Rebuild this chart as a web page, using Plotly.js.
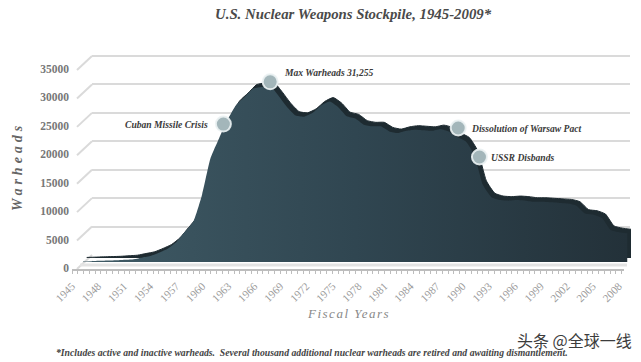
<!DOCTYPE html>
<html>
<head>
<meta charset="utf-8">
<script src="https://cdn.plot.ly/plotly-3.0.1.min.js"></script>
<style>
  html, body { margin: 0; padding: 0; background: #fff; }
  #chart { width: 641px; height: 362px; }
  .annotation[data-index="0"] text { letter-spacing: 4px; }
  .annotation[data-index="1"] text { letter-spacing: 1.5px; }
</style>
</head>
<body>
<div id="chart"></div>
<script>
// ---------------- DATA ----------------
const years = [1945,1946,1947,1948,1949,1950,1951,1952,1953,1954,1955,1956,1957,1958,1959,
  1960,1961,1962,1963,1964,1965,1966,1967,1968,1969,1970,1971,1972,1973,1974,1975,1976,1977,
  1978,1979,1980,1981,1982,1983,1984,1985,1986,1987,1988,1989,1990,1991,1992,1993,1994,1995,
  1996,1997,1998,1999,2000,2001,2002,2003,2004,2005,2006,2007,2008,2009];
const warheads = [100,150,200,250,300,400,500,800,1100,1700,2400,3600,5400,7300,12000,
  18500,22000,25300,27900,29300,30800,31100,31255,29500,27500,26000,25800,26500,27800,28500,27500,25900,25500,
  24400,24100,24100,23200,22900,23300,23500,23400,23300,23600,23200,22200,21400,19000,13700,11500,11000,10900,
  11000,10900,10700,10700,10600,10500,10400,10000,8600,8400,7800,5700,5300,5100];
const eventYears  = [1961.5, 1967, 1989.1, 1991.6];
const eventValues = [24500, 32000, 23800, 18650];
const eventLabels = ["Cuban Missile Crisis", "Max Warheads 31,255", "Dissolution of Warsaw Pact", "USSR Disbands"];
const yTickVals = [0,5000,10000,15000,20000,25000,30000,35000];
const yTickText = ["0","5000","10000","15000","20000","25000","30000","35000"];
const xTickVals = [1945,1948,1951,1954,1957,1960,1963,1966,1969,1972,1975,1978,1981,1984,1987,1990,1993,1996,1999,2002,2005,2008];
const xTickText = xTickVals.map(String);

// ---------------- GEOMETRY HELPERS ----------------
const W = 641, H = 362;
const px = v => v / W;
const py = v => 1 - v / H;
const sBack = 199 / 35000;   // px per warhead, wall/labels
const sFace = 5.63 / 1000;   // px per warhead, area faces

const serif = 'Liberation Serif, Times New Roman, serif';

const traces = [
  // gridline wall (dummy)
  {x:[0], y:[0], xaxis:'x', yaxis:'y', mode:'markers', marker:{opacity:0}, hoverinfo:'skip', showlegend:false},
  // back face (depth)
  {x: years, y: warheads, xaxis:'x2', yaxis:'y2', type:'scatter', mode:'lines', fill:'tozeroy',
   line:{color:'#1e2b31', width:1, shape:'spline', smoothing:0.5}, fillcolor:'#1e2b31', hoverinfo:'skip', showlegend:false},
  // front face
  {x: years, y: warheads, xaxis:'x3', yaxis:'y3', type:'scatter', mode:'lines', fill:'tozeroy',
   line:{color:'rgba(0,0,0,0)', width:0, shape:'spline', smoothing:0.5},
   fillgradient:{type:'horizontal', colorscale:[[0,'#3f5a65'],[0.5,'#304651'],[1,'#233139']]},
   hoverinfo:'skip', showlegend:false},
  // event markers
  {x: eventYears, y: eventValues, xaxis:'x3', yaxis:'y3', mode:'markers',
   marker:{size:15, color:'#a3b6ba', line:{color:'rgba(235,242,243,0.9)', width:2}}, hoverinfo:'skip', showlegend:false},
  // labels axes (dummy)
  {x:[1945], y:[0], xaxis:'x4', yaxis:'y4', mode:'markers', marker:{opacity:0}, hoverinfo:'skip', showlegend:false}
];

// slanted gridline segments (3D wall corners)
const shapes = yTickVals.map(v => ({
  type:'line', xref:'paper', yref:'paper', layer:'below',
  x0: px(77), y0: py(268 - v * sBack + 1), x1: px(92), y1: py(255 - v * sBack),
  line:{color:'#dadada', width:2}
}));
shapes.push({type:'line', xref:'paper', yref:'paper', layer:'below',
  x0: px(80), y0: py(265), x1: px(627), y1: py(265), line:{color:'#e3e3e3', width:3}});

const labelShift = [[-13, 0, 'right'], [12, 9, 'left'], [11, 0, 'left'], [10, 0, 'left']];
const annotations = [
  {text:'Warheads', xref:'paper', yref:'paper', x:px(17), y:py(166), textangle:-90, showarrow:false,
   xanchor:'center', yanchor:'middle',
   font:{family:serif, size:14, color:'#666', weight:'bold', style:'italic'}},
  {text:'Fiscal Years', xref:'paper', yref:'paper', x:px(348), y:py(313), showarrow:false,
   xanchor:'center', yanchor:'middle',
   font:{family:serif, size:13, color:'#888', style:'italic'}},
  {text:'U.S. Nuclear Weapons Stockpile, 1945-2009*', xref:'paper', yref:'paper', x:px(353), y:py(14), showarrow:false,
   xanchor:'center', yanchor:'middle',
   font:{family:serif, size:14.8, color:'#4a4a4a', weight:'bold', style:'italic'}},
  {text:'*Includes active and inactive warheads.  Several thousand additional nuclear warheads are retired and awaiting dismantlement.',
   xref:'paper', yref:'paper', x:px(312), y:py(352), showarrow:false, xanchor:'center', yanchor:'middle',
   font:{family:serif, size:9.7, color:'#444', weight:'bold', style:'italic'}},
  {text:'头条 @全球一线', xref:'paper', yref:'paper', x:px(574), y:py(340), showarrow:false,
   xanchor:'center', yanchor:'middle',
   font:{family:'Noto Sans CJK SC', size:16, color:'#3c3c3c'}}
];
eventLabels.forEach((t, i) => annotations.push({
  text:t, xref:'x3', yref:'y3', x:eventYears[i], y:eventValues[i], showarrow:false,
  xanchor:labelShift[i][2], yanchor:'middle', xshift:labelShift[i][0], yshift:labelShift[i][1],
  font:{family:serif, size:9.6, color:'#3a3a3a', weight:'bold', style:'italic'}
}));

const layout = {
  width: W, height: H,
  margin:{l:0, r:0, t:0, b:0},
  paper_bgcolor:'#ffffff', plot_bgcolor:'rgba(0,0,0,0)',
  showlegend:false,
  xaxis:{domain:[px(92), px(630)], range:[0,1], visible:false, anchor:'y'},
  yaxis:{domain:[py(255), py(255 - 40000 * sBack)], range:[0,40000], anchor:'x',
         tickvals:yTickVals, showgrid:true, gridcolor:'#dadada', gridwidth:2,
         showticklabels:false, zeroline:false, showline:false, ticks:''},
  xaxis2:{domain:[px(86.5), px(631)], range:[1945,2009], visible:false, anchor:'y2'},
  yaxis2:{domain:[py(258), py(258 - 40000 * sFace)], range:[0,40000], visible:false, anchor:'x2'},
  xaxis3:{domain:[px(83), px(627.5)], range:[1945,2009], visible:false, anchor:'y3'},
  yaxis3:{domain:[py(262), py(262 - 40000 * sFace)], range:[0,40000], visible:false, anchor:'x3'},
  xaxis4:{domain:[px(72), px(624)], range:[1945, 1945 + 552 / 8.68], anchor:'free', position:py(269),
          tickvals:xTickVals, ticktext:xTickText, tickangle:-45, ticks:'', ticklabelstandoff:5,
          showline:true, linecolor:'#bdbdbd', linewidth:1.5, showgrid:false, zeroline:false,
          minor:{ticks:'outside', ticklen:3, tickcolor:'#bdbdbd', tick0:1945, dtick:2/3, showgrid:false},
          tickfont:{family:serif, size:11, color:'#9a9a9a'}},
  yaxis4:{domain:[py(268), py(268 - 40000 * sBack)], range:[0,40000], anchor:'free', position:px(69),
          tickvals:yTickVals, ticktext:yTickText, ticks:'', showgrid:false, zeroline:false, showline:false,
          tickfont:{family:serif, size:11.5, color:'#777', weight:'bold'}},
  shapes: shapes,
  annotations: annotations
};

Plotly.newPlot('chart', traces, layout, {staticPlot:true, displayModeBar:false});
</script>
</body>
</html>
